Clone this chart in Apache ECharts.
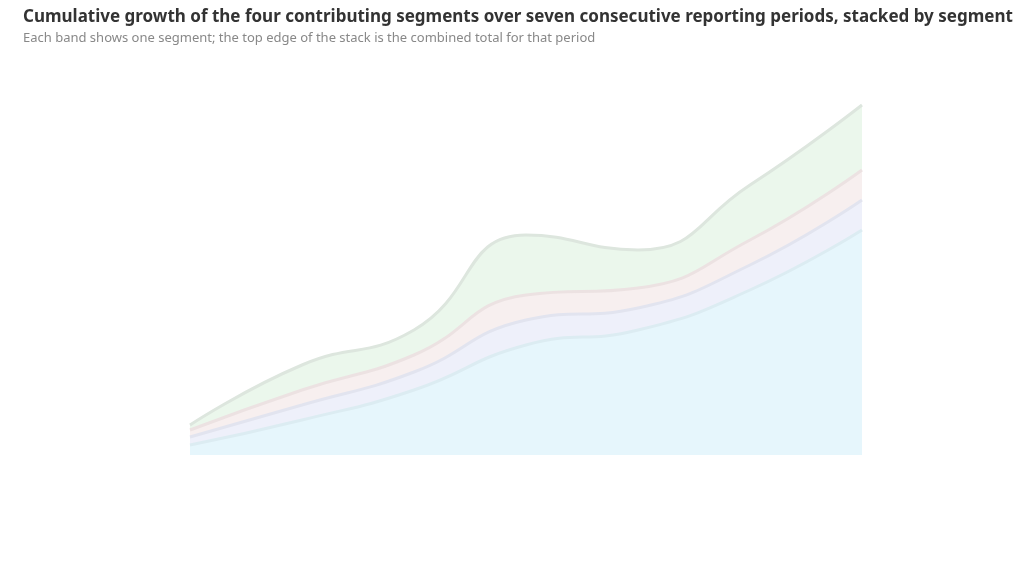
<!DOCTYPE html>
<html>
<head>
<meta charset="utf-8">
<script src="https://cdn.jsdelivr.net/npm/echarts@6/dist/echarts.min.js"></script>
<style>html,body{margin:0;padding:0;background:#fff}#c{width:1024px;height:576px}</style>
</head>
<body>
<div id="c"></div>
<script>
const categories = ['2018', '2019', '2020', '2021', '2022', '2023', '2024'];
const seriesNames = ['Series A', 'Series B', 'Series C', 'Series D'];
const seriesA = [10, 35, 65, 110, 125, 165, 225];
const seriesB = [8, 15, 18, 25, 22, 25, 30];
const seriesC = [7, 15, 17, 25, 20, 25, 30];
const seriesD = [5, 25, 25, 60, 38, 55, 65];
const titleText = 'Cumulative growth of the four contributing segments over seven consecutive reporting periods, stacked by segment';
const subtitleText = 'Each band shows one segment; the top edge of the stack is the combined total for that period';

const allData = [seriesA, seriesB, seriesC, seriesD];
const fills = ['#e6f6fc', '#eef0fa', '#f7efef', '#ebf7ec'];
const lines = ['#dcecf2', '#e2e4ef', '#ece2e2', '#dde6de'];

const chart = echarts.init(document.getElementById('c'));
chart.setOption({
  animation: false,
  title: {
    text: titleText,
    subtext: subtitleText,
    left: 18,
    top: 4,
    itemGap: 6,
    textStyle: { fontSize: 17, fontWeight: 'bold', color: '#333', fontFamily: 'Noto Sans' },
    subtextStyle: { fontSize: 13, color: '#888', fontFamily: 'Noto Sans' }
  },
  grid: { left: 190, right: 162, top: 100, bottom: 121 },
  xAxis: { type: 'category', data: categories, boundaryGap: false, show: false },
  yAxis: { type: 'value', min: 0, max: 355, show: false },
  series: allData.map((d, i) => ({
    name: seriesNames[i],
    type: 'line',
    stack: 'total',
    smooth: true,
    symbol: 'none',
    data: d,
    lineStyle: { width: 3, color: lines[i] },
    areaStyle: { color: fills[i], opacity: 1 }
  }))
});
</script>
</body>
</html>
